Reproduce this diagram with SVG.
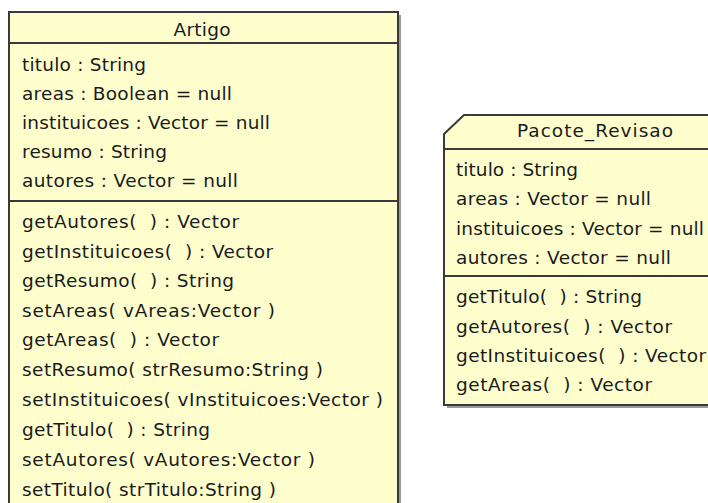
<svg xmlns="http://www.w3.org/2000/svg" width="708" height="503" viewBox="0 0 708 503">
<style>
.box{fill:#FFFFCE;stroke:#3a3a3a;stroke-width:2}
.shadow{fill:#9a9a9a}
.sep{stroke:#3a3a3a;stroke-width:2}
text{font-family:"DejaVu Sans",Verdana,sans-serif;font-size:18.5px;fill:#1a1a1a}
.title{text-anchor:middle}
</style>
<rect width="708" height="503" fill="#ffffff"/>
<g id="Artigo">
<rect class="shadow" x="12" y="15" width="389" height="520"/>
<rect class="box" x="9" y="12" width="389" height="520"/>
<line class="sep" x1="9" y1="43" x2="398" y2="43"/>
<line class="sep" x1="9" y1="201" x2="398" y2="201"/>
<text class="title" x="202" y="36" textLength="57">Artigo</text>
<text x="22" y="71" textLength="124">titulo : String</text>
<text x="22" y="100" textLength="210">areas : Boolean = null</text>
<text x="22" y="129" textLength="248">instituicoes : Vector = null</text>
<text x="22" y="158" textLength="145">resumo : String</text>
<text x="22" y="187" textLength="216">autores : Vector = null</text>
<text x="22" y="228" textLength="217">getAutores( &#160;) : Vector</text>
<text x="22" y="258" textLength="251">getInstituicoes( &#160;) : Vector</text>
<text x="22" y="287" textLength="212">getResumo( &#160;) : String</text>
<text x="22" y="317" textLength="253">setAreas( vAreas:Vector )</text>
<text x="22" y="346" textLength="197">getAreas( &#160;) : Vector</text>
<text x="22" y="376" textLength="301">setResumo( strResumo:String )</text>
<text x="22" y="406" textLength="361">setInstituicoes( vInstituicoes:Vector )</text>
<text x="22" y="436" textLength="188">getTitulo( &#160;) : String</text>
<text x="22" y="466" textLength="293">setAutores( vAutores:Vector )</text>
<text x="22" y="496" textLength="254">setTitulo( strTitulo:String )</text>
</g>
<g id="Pacote_Revisao">
<polygon class="shadow" points="447,137 467,118 723,118 723,408 447,408"/>
<polygon class="box" points="444,134 464,115 720,115 720,405 444,405"/>
<line class="sep" x1="444" y1="149" x2="720" y2="149"/>
<line class="sep" x1="444" y1="276" x2="720" y2="276"/>
<text class="title" x="595" y="137" textLength="156">Pacote_Revisao</text>
<text x="456" y="176" textLength="122">titulo : String</text>
<text x="456" y="205" textLength="195">areas : Vector = null</text>
<text x="456" y="235" textLength="248">instituicoes : Vector = null</text>
<text x="456" y="264" textLength="215">autores : Vector = null</text>
<text x="456" y="303" textLength="186">getTitulo( &#160;) : String</text>
<text x="456" y="333" textLength="216">getAutores( &#160;) : Vector</text>
<text x="456" y="362" textLength="250">getInstituicoes( &#160;) : Vector</text>
<text x="456" y="391" textLength="196">getAreas( &#160;) : Vector</text>
</g>
<g id="connectors"/>
</svg>
